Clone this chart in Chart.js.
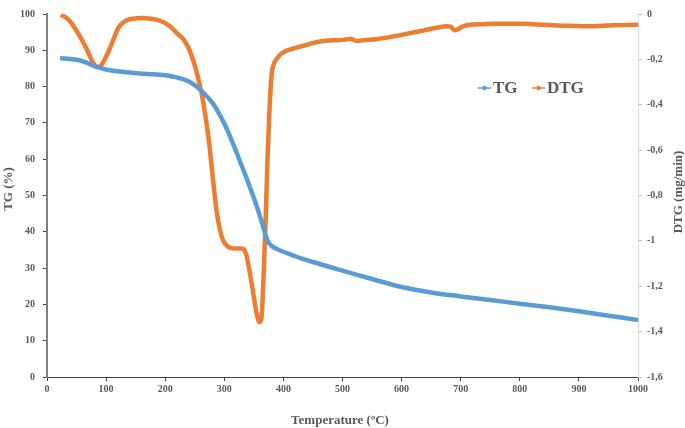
<!DOCTYPE html>
<html lang="en">
<head>
    <meta charset="UTF-8">
    <title>TG / DTG</title>
    <script src="https://cdn.jsdelivr.net/npm/chart.js"></script>
    <style>
        html, body { margin: 0; padding: 0; background: #fff; }
        #wrap { width: 685px; height: 428px; }
    </style>
</head>
<body>
<div id="wrap"><canvas id="tgChart" width="685" height="428"></canvas></div>

<script>
    // TG curve (% mass vs temperature)
    const tgTemp = [22, 40, 56, 70, 84, 100, 118, 140, 157, 180, 197, 212, 225, 240, 253, 265, 281, 295, 307, 322, 338, 352, 364, 370, 375, 381, 390, 400, 415, 430, 460, 500, 550, 600, 650, 700, 750, 800, 850, 900, 950, 1000];
    const tgValues = [87.8, 87.6, 87.2, 86.4, 85.4, 84.7, 84.2, 83.9, 83.6, 83.4, 83.2, 82.8, 82.3, 81.4, 80.0, 78.2, 75.3, 71.4, 67.3, 61.3, 54.6, 48.4, 42.4, 39.0, 37.0, 36.0, 35.2, 34.5, 33.6, 32.7, 31.2, 29.3, 27.0, 24.8, 23.3, 22.2, 21.2, 20.2, 19.2, 18.1, 16.9, 15.7];

    // DTG curve (mg/min vs temperature)
    const dtgTemp = [23, 30, 38, 45, 56, 67, 74, 79, 84, 89, 94, 101, 110, 121, 130, 140, 152, 163, 175, 186, 197, 208, 220, 231, 242, 253, 262, 270, 275, 279, 287, 293, 298, 304, 310, 320, 329, 334, 338, 346, 352, 356, 359, 362, 364, 367, 370, 373, 376, 380, 384, 389, 395, 405, 411, 422, 434, 450, 467, 485, 501, 513, 524, 535, 546, 560, 575, 590, 603, 617, 631, 645, 659, 676, 683, 690, 696, 702, 716, 735, 755, 780, 800, 830, 856, 885, 913, 940, 958, 980, 1000];
    const dtgValues = [-0.004, -0.012, -0.03, -0.054, -0.1, -0.154, -0.195, -0.218, -0.232, -0.232, -0.217, -0.183, -0.128, -0.06, -0.035, -0.023, -0.019, -0.018, -0.021, -0.026, -0.036, -0.054, -0.085, -0.112, -0.165, -0.255, -0.355, -0.483, -0.583, -0.683, -0.869, -0.955, -0.998, -1.02, -1.031, -1.034, -1.034, -1.04, -1.069, -1.184, -1.28, -1.335, -1.358, -1.35, -1.3, -1.12, -0.9, -0.65, -0.45, -0.27, -0.22, -0.197, -0.178, -0.162, -0.157, -0.148, -0.14, -0.128, -0.119, -0.116, -0.114, -0.109, -0.119, -0.116, -0.114, -0.11, -0.104, -0.097, -0.09, -0.083, -0.076, -0.068, -0.061, -0.054, -0.056, -0.072, -0.066, -0.057, -0.047, -0.045, -0.043, -0.043, -0.043, -0.046, -0.05, -0.052, -0.054, -0.052, -0.05, -0.048, -0.047];

    const textGrey = "#595959";
    const serif = "'Liberation Serif', 'Times New Roman', serif";

    // comma as decimal separator, like the source figure
    function commaLabel(v) {
        let r = Math.round(v * 10) / 10;
        if (r === 0) r = 0;
        return String(r).replace(".", ",");
    }

    // axis titles + legend drawn by hand (right title reads bottom-to-top)
    const decorPlugin = {
        id: "decor",
        afterDraw(chart) {
            const ctx = chart.ctx;
            ctx.save();
            ctx.fillStyle = textGrey;
            ctx.font = "bold 13px " + serif;
            ctx.textAlign = "center";
            ctx.textBaseline = "middle";

            ctx.fillText("Temperature (ºC)", 340, 421);

            ctx.save();
            ctx.translate(9, 189);
            ctx.rotate(-Math.PI / 2);
            ctx.fillText("TG (%)", 0, 0);
            ctx.restore();

            ctx.save();
            ctx.translate(679, 192);
            ctx.rotate(-Math.PI / 2);
            ctx.fillText("DTG (mg/min)", 0, 0);
            ctx.restore();

            // legend
            const items = [
                { label: "TG", color: "#5B9BD5", x: 478 },
                { label: "DTG", color: "#ED7D31", x: 532 }
            ];
            ctx.font = "bold 17px " + serif;
            ctx.textAlign = "left";
            items.forEach(it => {
                ctx.strokeStyle = it.color;
                ctx.fillStyle = it.color;
                ctx.lineWidth = 1.5;
                ctx.beginPath();
                ctx.moveTo(it.x, 88);
                ctx.lineTo(it.x + 13, 88);
                ctx.stroke();
                ctx.beginPath();
                ctx.arc(it.x + 6.5, 88, 2.2, 0, Math.PI * 2);
                ctx.fill();
                ctx.fillStyle = textGrey;
                ctx.fillText(it.label, it.x + 15, 89);
            });
            ctx.restore();
        }
    };

    const ctx = document.getElementById("tgChart").getContext("2d");
    const tgChart = new Chart(ctx, {
        type: "line",
        data: {
            datasets: [
                {
                    label: "TG",
                    data: tgTemp.map((t, i) => ({ x: t, y: tgValues[i] })),
                    borderColor: "#5B9BD5",
                    borderWidth: 4.5,
                    pointRadius: 0,
                    tension: 0.4,
                    yAxisID: "y"
                },
                {
                    label: "DTG",
                    data: dtgTemp.map((t, i) => ({ x: t, y: dtgValues[i] })),
                    borderColor: "#ED7D31",
                    borderWidth: 4.5,
                    pointRadius: 0,
                    cubicInterpolationMode: "monotone",
                    yAxisID: "y2"
                }
            ]
        },
        options: {
            responsive: false,
            animation: false,
            layout: { padding: { top: 4, left: 0, right: 0, bottom: 0 } },
            plugins: {
                legend: { display: false },
                tooltip: { enabled: false }
            },
            scales: {
                x: {
                    type: "linear",
                    min: 0,
                    max: 1000,
                    ticks: {
                        stepSize: 100,
                        color: textGrey,
                        padding: 2,
                        maxRotation: 0,
                        font: { family: serif, size: 10, weight: "bold" },
                        callback: v => String(v)
                    },
                    grid: { drawOnChartArea: false, drawTicks: true, tickLength: 4, color: "#404040" },
                    border: { color: "#404040", width: 1 },
                    afterFit(scale) { scale.height = 51; }
                },
                y: {
                    position: "left",
                    min: 0,
                    max: 100,
                    ticks: {
                        stepSize: 10,
                        color: textGrey,
                        padding: 8,
                        font: { family: serif, size: 10, weight: "bold" }
                    },
                    grid: { drawOnChartArea: false, drawTicks: true, tickLength: 4, color: "#404040" },
                    border: { color: "#808080", width: 2 },
                    afterFit(scale) { scale.width = 47; }
                },
                y2: {
                    position: "right",
                    min: -1.6,
                    max: 0,
                    ticks: {
                        stepSize: 0.2,
                        color: textGrey,
                        padding: 5,
                        font: { family: serif, size: 10, weight: "bold" },
                        callback: v => commaLabel(v)
                    },
                    grid: { drawOnChartArea: false, drawTicks: true, tickLength: 4, color: "#bfbfbf" },
                    border: { color: "#d9d9d9", width: 1 },
                    afterFit(scale) { scale.width = 47; }
                }
            }
        },
        plugins: [decorPlugin]
    });
</script>
</body>
</html>
